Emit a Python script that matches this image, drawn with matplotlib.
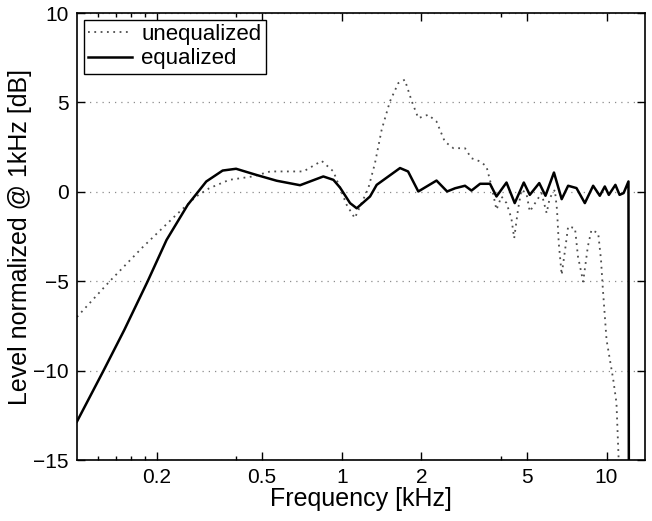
import matplotlib
matplotlib.use("Agg")
import matplotlib.pyplot as plt
from matplotlib.ticker import FixedLocator, FixedFormatter, NullFormatter

plt.rcParams['font.family'] = ['Liberation Sans', 'DejaVu Sans']

# frequency in kHz, level in dB
eq_freq = [0.1, 0.126, 0.151, 0.185, 0.218, 0.262, 0.308, 0.355, 0.399, 0.475,
           0.568, 0.696, 0.852, 0.93, 0.985, 1.075, 1.139, 1.279, 1.355, 1.66,
           1.78, 1.946, 2.28, 2.5, 2.68, 2.92, 3.09, 3.33, 3.63, 3.84,
           4.19, 4.5, 4.87, 5.13, 5.57, 5.88, 6.33, 6.77, 7.16, 7.7,
           8.28, 8.9, 9.43, 9.85, 10.2, 10.8, 11.2, 11.6, 12.1, 12.15]
eq_level = [-12.85, -10, -7.72, -5.0, -2.69, -0.73, 0.58, 1.19, 1.29, 0.95,
            0.62, 0.37, 0.86, 0.67, 0.24, -0.63, -0.92, -0.26, 0.39, 1.33,
            1.14, 0.02, 0.63, 0.02, 0.2, 0.34, 0.07, 0.45, 0.45, -0.26,
            0.52, -0.63, 0.52, -0.17, 0.49, -0.22, 1.08, -0.41, 0.34, 0.21,
            -0.63, 0.34, -0.22, 0.3, -0.17, 0.39, -0.17, -0.07, 0.58, -20]

uneq_freq = [0.1, 0.133, 0.177, 0.237, 0.282, 0.316, 0.376, 0.461, 0.537, 0.717,
             0.84, 0.93, 1.044, 1.12, 1.26, 1.335, 1.415, 1.52, 1.635, 1.73,
             1.84, 1.946, 2.12, 2.28, 2.45, 2.64, 2.92, 3.09, 3.33, 3.52,
             3.68, 3.84, 4.01, 4.19, 4.37, 4.48, 4.63, 4.77, 4.98, 5.13,
             5.68, 5.94, 6.1, 6.38, 6.5, 6.6, 6.77, 7.0, 7.16, 7.6,
             7.8, 8.16, 8.5, 8.77, 9.3, 9.53, 9.67, 10.0, 10.6, 10.9,
             11.1, 11.2]
uneq_level = [-7.0, -5.0, -3.1, -1.29, -0.26, 0.2, 0.67, 0.86, 1.14, 1.14,
              1.73, 1.14, -0.73, -1.47, 0.2, 1.6, 3.47, 5.05, 6.08, 6.27,
              5.05, 4.12, 4.31, 3.93, 2.81, 2.44, 2.44, 1.88, 1.7, 1.42,
              0.3, -1.0, -0.26, -0.63, -1.47, -2.59, -1.0, 0.11, -0.07, -1.1,
              -0.07, -1.19, -0.35, 0.11, -1.0, -2.87, -4.64, -3.06, -1.94, -2.03,
              -3.62, -5.02, -3.06, -2.13, -2.31, -3.8, -5.3, -8.28, -10.5, -11.8,
              -14.8, -20]

xticks = [0.2, 0.5, 1, 2, 5, 10]
xtick_labels = ['0.2', '0.5', '1', '2', '5', '10']
xminor = [0.12, 0.14, 0.16, 0.18, 0.4, 4]
yticks = [-15, -10, -5, 0, 5, 10]

fig = plt.figure(figsize=(6.52, 5.21), dpi=100)
ax = fig.add_axes([0.118, 0.117, 0.871, 0.858])

ax.plot(uneq_freq, uneq_level, color='0.3', linestyle=(0, (1, 2.5)), lw=1.3,
        label='unequalized')
ax.plot(eq_freq, eq_level, color='black', lw=1.8, label='equalized')

ax.set_xscale('log')
ax.set_xlim(0.1, 13.95)
ax.set_ylim(-15, 10)

ax.xaxis.set_major_locator(FixedLocator(xticks))
ax.xaxis.set_major_formatter(FixedFormatter(xtick_labels))
ax.xaxis.set_minor_locator(FixedLocator(xminor))
ax.xaxis.set_minor_formatter(NullFormatter())
ax.set_yticks(yticks)

ax.tick_params(which='both', direction='in', top=True, right=True,
               labelsize=15, width=1)
ax.tick_params(which='major', length=6, pad=6)
ax.tick_params(which='minor', length=3)
for sp in ax.spines.values():
    sp.set_linewidth(1.2)

ax.yaxis.grid(True, color='0.55', linestyle=(0, (1, 4)), lw=0.9)
ax.set_axisbelow(True)

ax.set_xlabel('Frequency [kHz]', fontsize=18, labelpad=0)
ax.set_ylabel('Level normalized @ 1kHz [dB]', fontsize=18, labelpad=1)

leg = ax.legend(loc='upper left', fontsize=16, fancybox=False, framealpha=1,
                edgecolor='black', borderaxespad=0.3, handlelength=2.0,
                borderpad=0.2, labelspacing=0.15, handletextpad=0.4)
leg.get_frame().set_linewidth(1.0)

fig.savefig('out.png', dpi=100)
